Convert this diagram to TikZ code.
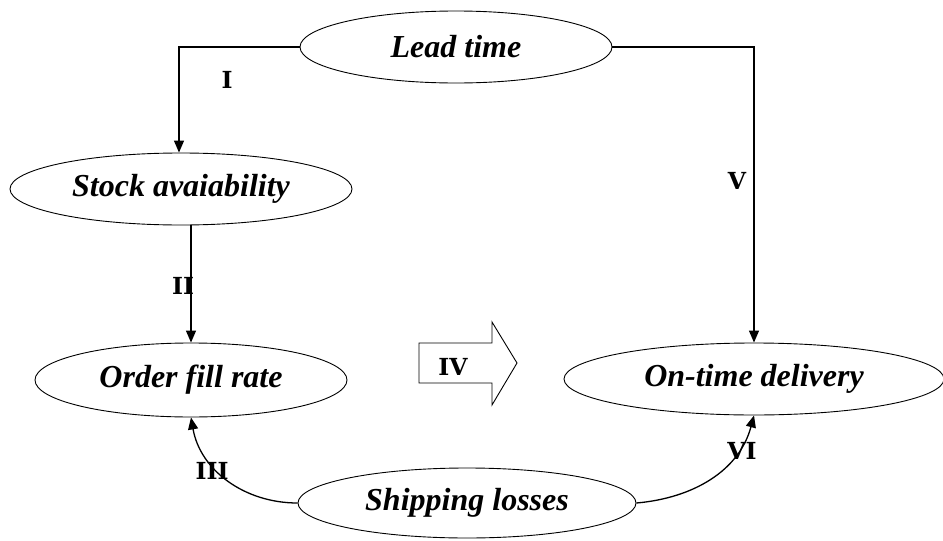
\documentclass[tikz,border=0pt]{standalone}
\usepackage{fontspec}
\setmainfont[Ligatures=NoCommon]{Liberation Serif}
\newfontfamily\numfont{DejaVu Serif}
\usetikzlibrary{shapes.geometric,arrows.meta}
\begin{document}
\begin{tikzpicture}[x=1pt,y=-1pt,
  factor/.style={ellipse,draw,line width=0.9pt,inner sep=0pt,
    font=\fontsize{32}{35}\selectfont\bfseries\itshape},
  link/.style={line width=1.3pt,-{Triangle[length=12pt,width=10pt]}},
  tag/.style={font=\numfont\bfseries\fontsize{23.5}{25}\selectfont,inner sep=0pt}]
\useasboundingbox (0,0) rectangle (943,541);

% factors
\node[factor,minimum width=312pt,minimum height=72pt] (lead)  at (456,47)  {Lead time};
\node[factor,minimum width=342pt,minimum height=72pt] (stock) at (181,189) {Stock avaiability};
\node[factor,minimum width=312pt,minimum height=74pt] (order) at (191,380) {Order fill rate};
\node[factor,minimum width=380pt,minimum height=72pt] (otd)   at (754,379) {On-time delivery};
\node[factor,minimum width=338pt,minimum height=70pt] (ship)  at (467,503) {Shipping losses};

% effects
\draw[link] (lead.west) -| (stock.north -| 179,0);
\draw[link] (lead.east) -| (otd.north);
\draw[link] (stock.south -| order.north) -- (order.north);
\draw[link] (ship.west) to[out=180,in=-80] (order.south);
\draw[link] (ship.east) to[out=5,in=-105] (otd.south);

% block arrow between the two outcomes
\draw[line width=0.9pt,line join=miter]
  (419,343) -- (492,343) -- (492,322) -- (517,363) -- (492,405) -- (492,383) -- (419,383) -- cycle;

% labels
\node[tag] (t1) at (227,80)  {I};
\node[tag] (t2) at (183,286) {II};
\node[tag] (t3) at (212,471) {III};
\node[tag] (t4) at (453,367) {IV};
\node[tag] (t5) at (737,181) {V};
\node[tag] (t6) at (742,451) {VI};
\end{tikzpicture}
\end{document}
